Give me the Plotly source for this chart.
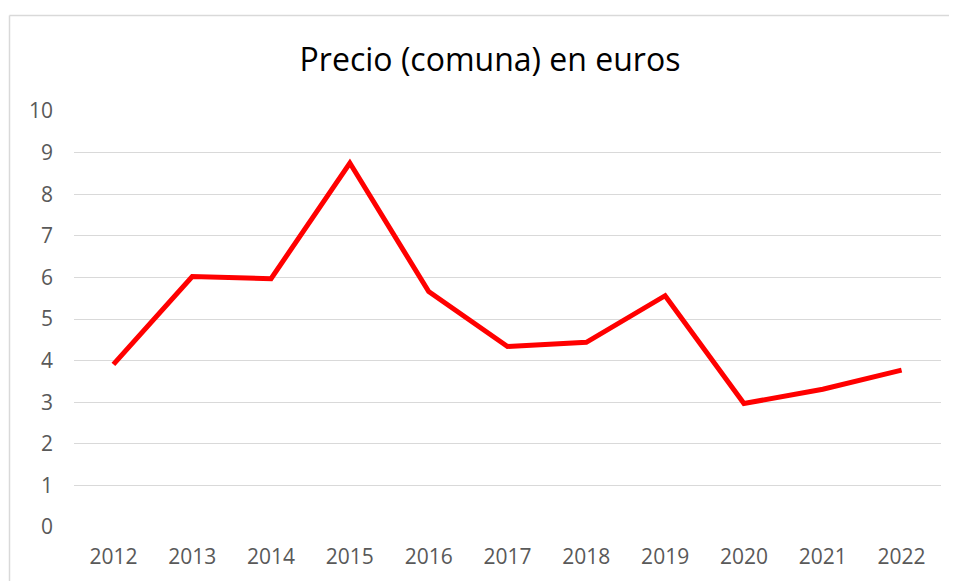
import plotly.graph_objects as go

years = ["2012", "2013", "2014", "2015", "2016", "2017", "2018", "2019", "2020", "2021", "2022"]
precio = [3.91, 6.02, 5.97, 8.75, 5.66, 4.34, 4.44, 5.56, 2.97, 3.31, 3.77]
y_ticks = [0, 1, 2, 3, 4, 5, 6, 7, 8, 9, 10]

# page body has an 8px margin, so the figure is laid out in shifted coordinates
OFF = 8
W, H = 957 - OFF, 581 - OFF
L, R, T, B = 74 - OFF, 16, 111 - OFF, 54
pw = W - L - R
ph = H - T - B

bx0 = (9.5 - OFF - L) / pw
by1 = (H - B - (15.5 - OFF)) / ph
bx1 = (W - L) / pw
by0 = -B / ph

fig = go.Figure()
fig.add_trace(go.Scatter(
    x=years, y=precio, mode="lines",
    line=dict(color="#FF0000", width=5),
    hoverinfo="x+y", showlegend=False,
))

border = dict(color="#d9d9d9", width=1.5)
fig.update_layout(
    width=W, height=H,
    margin=dict(l=L, r=R, t=T, b=B),
    paper_bgcolor="white", plot_bgcolor="white",
    font=dict(family="Open Sans, Liberation Sans, sans-serif", color="#595959"),
    title=dict(text="Precio (comuna) en euros", x=(490 - OFF) / W, xanchor="center",
               y=1 - (60 - OFF) / H, yanchor="middle",
               font=dict(size=32, color="#000000", family="Open Sans, Liberation Sans, sans-serif")),
    xaxis=dict(type="category", range=[-0.5, 10.5], showgrid=False, zeroline=False,
               showline=False, ticks="", tickfont=dict(size=21, color="#595959"),
               ticklabelstandoff=15),
    yaxis=dict(range=[0, 10], tickvals=y_ticks, showgrid=True, gridcolor="#d9d9d9",
               gridwidth=1.3, zeroline=False, showline=False, ticks="",
               tickfont=dict(size=21, color="#595959"), ticklabelstandoff=20),
    shapes=[
        dict(type="line", xref="paper", yref="paper", x0=bx0, x1=bx1, y0=by1, y1=by1,
             line=border, layer="below"),
        dict(type="line", xref="paper", yref="paper", x0=bx0, x1=bx0, y0=by0, y1=by1,
             line=border, layer="below"),
    ],
)

fig.write_html("out.html", config={"displayModeBar": False})
